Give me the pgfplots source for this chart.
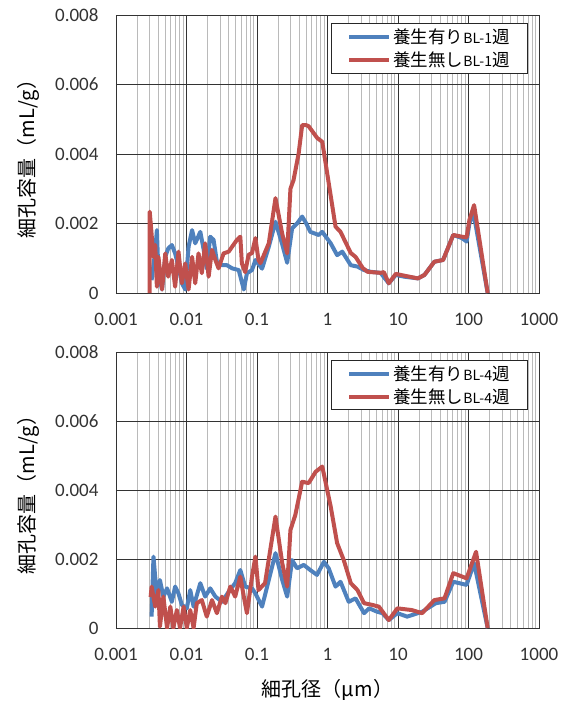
\documentclass[border=0pt]{standalone}
\usepackage{fontspec}
\setmainfont{Carlito}
\newfontfamily\jp{Noto Sans CJK JP}
\usepackage{pgfplots}
\pgfplotsset{compat=1.18}
\definecolor{exblue}{RGB}{79,129,189}
\definecolor{exred}{RGB}{192,80,77}
\newcommand{\bl}[1]{{\fontsize{14}{15}\selectfont #1}}

\pgfkeys{/pgf/number format/assume math mode=true}
\pgfplotsset{
  scale only axis, width=423pt,
  xmin=0.001, xmax=1000, ymin=0, ymax=0.008,
  xtick={0.001,0.01,0.1,1,10,100,1000},
  xticklabels={0.001,0.01,0.1,1,10,100,1000},
  ytick={0,0.002,0.004,0.006,0.008},
  yticklabels={0,0.002,0.004,0.006,0.008},
  scaled y ticks=false,
  major tick length=0pt, minor tick length=0pt,
  xmajorgrids, xminorgrids, ymajorgrids,
  major grid style={black!80, line width=0.9pt},
  minor grid style={black!27, line width=0.9pt},
  axis line style={black!80, line width=0.9pt},
  ticklabel style={font=\fontsize{19}{21}\selectfont, text=black!80},
  yticklabel style={xshift=-14pt},
  xticklabel style={yshift=-17pt},
  ylabel style={font=\fontsize{20}{22}\selectfont},
  legend style={at={(0.974,0.971)}, anchor=north east, draw=black!85,
    line width=0.9pt, fill=white, font=\fontsize{17.5}{21}\selectfont,
    inner xsep=16pt, inner ysep=3pt, row sep=3pt},
  legend cell align=left,
  legend image code/.code={\draw[#1, line width=4pt] (0pt,0pt) -- (40pt,0pt);},
  every axis plot/.append style={line width=4pt, line join=round, mark=none},
}

\begin{document}
\begin{tikzpicture}
\useasboundingbox (0pt,0pt) rectangle (566pt,-706pt);

% upper panel: 1 week
\begin{semilogxaxis}[height=278pt, at={(116pt,-293pt)}, anchor=south west,
  ylabel={\jp 細孔容量（mL/g）},
  ylabel style={at={(axis description cs:-0.208,0.5)}, anchor=center}]
\addplot[exblue] coordinates {
(0.0032,0.00037) (0.0036,0.0012) (0.0038,0.00181) (0.0040,0.00057)
(0.0045,0.0001) (0.0050,0.00104) (0.0055,0.00128) (0.0062,0.00138)
(0.0069,0.00114) (0.0077,0.00076) (0.0086,0.00028) (0.0096,0.0001)
(0.0107,0.00133) (0.0120,0.00181) (0.0133,0.00143) (0.0157,0.00176)
(0.0174,0.00128) (0.0194,0.0007) (0.0217,0.00162) (0.0242,0.00153)
(0.027,0.0009) (0.0318,0.0008) (0.0375,0.0008) (0.0443,0.00071)
(0.055,0.00066) (0.065,0.0001) (0.072,0.00057) (0.085,0.00066)
(0.095,0.00095) (0.118,0.0007) (0.147,0.00133) (0.183,0.00205)
(0.228,0.0014) (0.268,0.00087) (0.315,0.00186) (0.37,0.002)
(0.437,0.0022) (0.50,0.002) (0.57,0.00176) (0.75,0.00167)
(0.843,0.00176) (1.11,0.00143) (1.37,0.00109) (1.62,0.00119)
(2.14,0.0008) (2.66,0.00076) (3.3,0.00066) (4.1,0.00061)
(5.65,0.00058) (7.4,0.00028) (9.3,0.00052) (12.2,0.00047)
(19.2,0.00042) (23.7,0.00052) (32.8,0.0009) (43.6,0.00095)
(60.8,0.00167) (80.8,0.00158) (94,0.00148) (103,0.002)
(118,0.0023) (187,0)
};
\addlegendentry{\jp 養生有り\bl{BL-1}\jp 週}
\addplot[exred] coordinates {
(0.0030,0) (0.00301,0.00234) (0.0034,0.00104) (0.0036,0.00138)
(0.0038,0.00018) (0.0040,0.00104) (0.0045,0.0001) (0.0050,0.00114)
(0.0055,0.00047) (0.0062,0.00095) (0.0069,0.00018) (0.0077,0.00119)
(0.0086,0.00028) (0.0096,0.00085) (0.0107,0.0001) (0.012,0.00104)
(0.0133,0.00028) (0.0148,0.00114) (0.0165,0.00057) (0.0184,0.00143)
(0.0206,0.00047) (0.023,0.00124) (0.0257,0.00095) (0.0285,0.00071)
(0.0336,0.00114) (0.0397,0.00119) (0.0443,0.00133) (0.052,0.00153)
(0.058,0.00162) (0.061,0.00085) (0.068,0.0006) (0.076,0.0011)
(0.085,0.00115) (0.095,0.00158) (0.105,0.00095) (0.112,0.00086)
(0.147,0.00143) (0.183,0.00273) (0.228,0.0017) (0.268,0.00114)
(0.298,0.003) (0.33,0.00325) (0.39,0.00402) (0.437,0.00483)
(0.50,0.00483) (0.54,0.0048) (0.716,0.00446) (0.843,0.00435)
(1.30,0.00191) (1.53,0.00176) (2.14,0.00115) (2.5,0.00104)
(3.16,0.00072) (3.7,0.00061) (5.65,0.00058) (6.3,0.0006)
(7.4,0.00028) (9.3,0.00055) (12.2,0.0005) (19.2,0.00042)
(23.7,0.00052) (32.8,0.0009) (43.6,0.00095) (60.8,0.00167)
(80.8,0.00162) (94,0.0016) (103,0.0021) (120,0.00253) (187,0)
};
\addlegendentry{\jp 養生無し\bl{BL-1}\jp 週}
\end{semilogxaxis}

% lower panel: 4 weeks
\begin{semilogxaxis}[height=276pt, at={(116pt,-628pt)}, anchor=south west,
  ylabel={\jp 細孔容量（mL/g）},
  ylabel style={at={(axis description cs:-0.208,0.5)}, anchor=center},
  xlabel={\jp 細孔径（μm）},
  xlabel style={at={(axis description cs:0.5,-0.225)}, anchor=center,
    font=\fontsize{20}{22}\selectfont}]
\addplot[exblue] coordinates {
(0.0032,0.00033) (0.0034,0.00207) (0.0038,0.00091) (0.0042,0.00139)
(0.0047,0.00091) (0.0053,0.00115) (0.0062,0.00076) (0.0069,0.0012)
(0.0077,0.001) (0.0086,0.00067) (0.0101,0.00057) (0.0113,0.0011)
(0.0126,0.00062) (0.0157,0.0013) (0.0184,0.00091) (0.0217,0.00115)
(0.0257,0.00091) (0.0318,0.00076) (0.0397,0.00105) (0.049,0.0013)
(0.058,0.00168) (0.068,0.0012) (0.085,0.00115) (0.095,0.001)
(0.118,0.00062) (0.147,0.00139) (0.183,0.00217) (0.228,0.00139)
(0.268,0.00091) (0.315,0.00197) (0.37,0.00173) (0.46,0.00183)
(0.57,0.00168) (0.71,0.00154) (0.89,0.00192) (1.04,0.00173)
(1.3,0.0012) (1.53,0.00134) (2.0,0.00076) (2.5,0.00086)
(3.3,0.00043) (3.9,0.00057) (5.1,0.00047) (6.0,0.00043)
(7.4,0.00023) (9.8,0.00043) (13.5,0.00033) (22,0.00047)
(34.4,0.00072) (45.7,0.00076) (60.8,0.00134) (94,0.00125)
(120,0.00188) (187,0)
};
\addlegendentry{\jp 養生有り\bl{BL-4}\jp 週}
\addplot[exred] coordinates {
(0.0031,0.0009) (0.0032,0.0012) (0.0036,0.00062) (0.0040,0.0011)
(0.0042,0.00004) (0.0047,0.00091) (0.0053,0) (0.0059,0.00062)
(0.0065,0) (0.0073,0.00052) (0.0081,0) (0.0091,0.00062)
(0.0101,0) (0.0113,0.00052) (0.0126,0) (0.014,0.00072)
(0.0165,0.00081) (0.0194,0.00033) (0.023,0.00081) (0.027,0.00043)
(0.0318,0.00091) (0.0356,0.00072) (0.0418,0.0012) (0.049,0.00091)
(0.058,0.00149) (0.065,0.00091) (0.072,0.00043) (0.085,0.00149)
(0.095,0.00207) (0.105,0.0011) (0.13,0.0013) (0.183,0.00323)
(0.228,0.00188) (0.268,0.0012) (0.298,0.00284) (0.35,0.00328)
(0.437,0.00424) (0.54,0.0042) (0.68,0.00453) (0.843,0.00468)
(1.11,0.00352) (1.37,0.00246) (1.7,0.00197) (2.14,0.0013)
(2.66,0.0011) (3.3,0.00072) (4.3,0.00067) (5.35,0.00062)
(7.4,0.00023) (9.8,0.00057) (15.7,0.00052) (22,0.00043)
(32.8,0.00081) (45.7,0.00086) (60.8,0.00159) (94,0.00144)
(128,0.00221) (187,0)
};
\addlegendentry{\jp 養生無し\bl{BL-4}\jp 週}
\end{semilogxaxis}
\end{tikzpicture}
\end{document}
